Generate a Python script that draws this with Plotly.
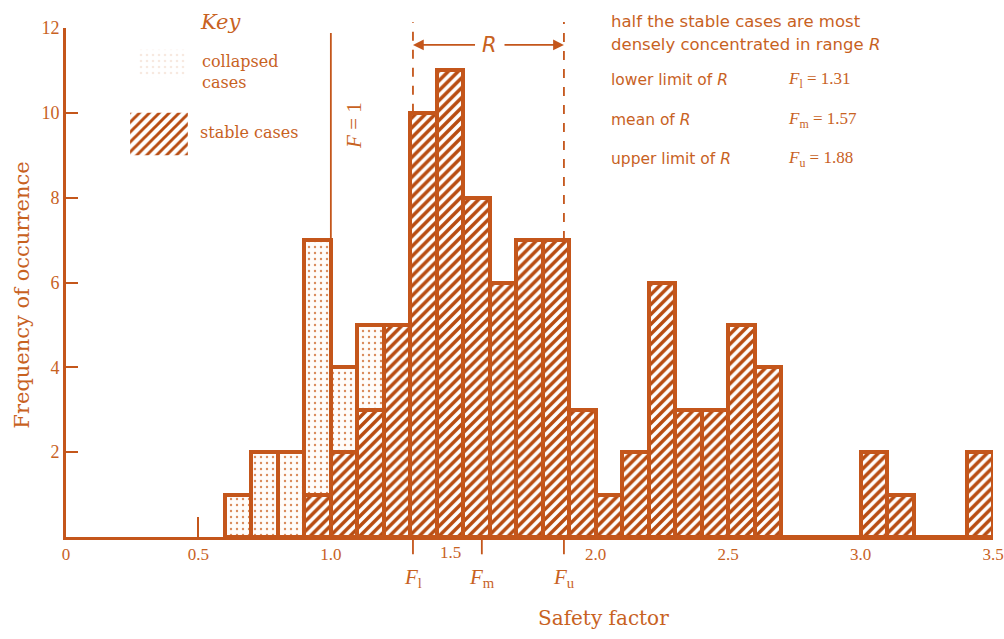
import plotly.graph_objects as go

# ---- data ----
bin_start = [0.6, 0.7, 0.8, 0.9, 1.0, 1.1, 1.2, 1.3, 1.4, 1.5, 1.6, 1.7, 1.8, 1.9,
             2.0, 2.1, 2.2, 2.3, 2.4, 2.5, 2.6, 2.7, 2.8, 2.9, 3.0, 3.1, 3.2, 3.3, 3.4]
stable = [0, 0, 0, 1, 2, 3, 5, 10, 11, 8, 6, 7, 7, 3,
          1, 2, 6, 3, 3, 5, 4, 0, 0, 0, 2, 1, 0, 0, 2]
collapsed = [1, 2, 2, 6, 2, 2, 0, 0, 0, 0, 0, 0, 0, 0,
             0, 0, 0, 0, 0, 0, 0, 0, 0, 0, 0, 0, 0, 0, 0]
bin_width = 0.1
x_ticks = [0, 0.5, 1.0, 1.5, 2.0, 2.5, 3.0, 3.5]
x_ticktext = ["0", "0.5", "1.0", "", "2.0", "2.5", "3.0", "3.5"]
y_ticks = [2, 4, 6, 8, 10, 12]
F_l, F_m, F_u = 1.31, 1.57, 1.88

C = "#C4561B"
HATCH = "#B84C12"
TXT = "#C8621F"
SERIF = "DejaVu Serif"
SERIF2 = "Liberation Serif"
SANS = "DejaVu Sans"

fig = go.Figure()

fig.add_trace(go.Bar(
    x=bin_start, y=stable, width=bin_width, offset=0, name="stable cases",
    marker=dict(color="white", line=dict(color=C, width=4),
                pattern=dict(shape="/", fgcolor=HATCH, fgopacity=1, bgcolor="white",
                             size=7, solidity=0.5)),
    showlegend=False))
fig.add_trace(go.Bar(
    x=bin_start, y=collapsed, width=bin_width, offset=0, name="collapsed cases",
    marker=dict(color="white", line=dict(color=C, width=4),
                pattern=dict(shape=".", fgcolor="#D98A5A", fgopacity=1, bgcolor="#FFFCFA",
                             size=6, solidity=0.12)),
    showlegend=False))

# key swatches (legend decoration)
key_stable_x = [0.242, 0.46, 0.46, 0.242, 0.242]
key_stable_y = [9.0, 9.0, 10.0, 10.0, 9.0]
key_coll_x = [0.27, 0.45, 0.45, 0.27, 0.27]
key_coll_y = [10.83, 10.83, 11.49, 11.49, 10.83]
fig.add_trace(go.Scatter(x=key_stable_x, y=key_stable_y, mode="lines", fill="toself",
                         line=dict(width=0), fillcolor="white",
                         fillpattern=dict(shape="/", fgcolor=HATCH, fgopacity=1, bgcolor="white",
                                          size=7, solidity=0.42),
                         showlegend=False, hoverinfo="skip"))
fig.add_trace(go.Scatter(x=key_coll_x, y=key_coll_y, mode="lines", fill="toself",
                         line=dict(width=0), fillcolor="white",
                         fillpattern=dict(shape=".", fgcolor="#EFD3C2", bgcolor="white", size=6, solidity=0.15),
                         showlegend=False, hoverinfo="skip"))

shapes = []
# F = 1 line
shapes.append(dict(type="line", xref="x", yref="paper", x0=1.0, x1=1.0, y0=0, y1=0.99,
                   line=dict(color=C, width=1.8)))
# R limits dashed
shapes.append(dict(type="line", xref="x", yref="paper", x0=F_l, x1=F_l, y0=10 / 12, y1=1.012,
                   line=dict(color=C, width=1.8, dash="dash")))
shapes.append(dict(type="line", xref="x", yref="paper", x0=F_u, x1=F_u, y0=7 / 12, y1=1.012,
                   line=dict(color=C, width=1.8, dash="dash")))
# F ticks below axis
for fv in (F_l, F_m, F_u):
    shapes.append(dict(type="line", xref="x", yref="paper", x0=fv, x1=fv, y0=0, y1=-0.034,
                       line=dict(color=C, width=1.8)))

ann = []
# R arrows
ann.append(dict(x=F_l, y=11.6, ax=1.55, ay=11.6, axref="x", ayref="y", xref="x", yref="y",
                text="", showarrow=True, arrowhead=2, arrowsize=1.2, arrowwidth=1.8, arrowcolor=C))
ann.append(dict(x=F_u, y=11.6, ax=1.65, ay=11.6, axref="x", ayref="y", xref="x", yref="y",
                text="", showarrow=True, arrowhead=2, arrowsize=1.2, arrowwidth=1.8, arrowcolor=C))
ann.append(dict(x=1.6, y=11.6, text="<i>R</i>", showarrow=False, yanchor="middle",
                font=dict(family=SANS, size=21, color=TXT)))
# F = 1
ann.append(dict(x=1.085, y=9.7, text="<i>F</i> = 1", textangle=-90, showarrow=False,
                yanchor="middle", font=dict(family=SERIF2, size=21, color=TXT)))
# Key
ann.append(dict(x=0.5, y=1.012, yref="paper", xanchor="left", yanchor="middle",
                text="<i>Key</i>", showarrow=False,
                font=dict(family=SERIF, size=21, color=TXT)))
ann.append(dict(x=0.505, y=10.97, xanchor="left", yanchor="middle", align="left",
                text="collapsed<br>cases",
                showarrow=False, font=dict(family=SERIF, size=16, color=TXT)))
ann.append(dict(x=0.5, y=9.53, xanchor="left", yanchor="middle", text="stable cases",
                showarrow=False, font=dict(family=SERIF, size=16, color=TXT)))
# right text block
ann.append(dict(x=2.05, y=1.012, yref="paper", xanchor="left", yanchor="middle",
                text="half the stable cases are most",
                showarrow=False, font=dict(family=SANS, size=16.5, color=TXT)))
ann.append(dict(x=2.05, y=11.6, xanchor="left", yanchor="middle",
                text="densely concentrated in range <i>R</i>",
                showarrow=False, font=dict(family=SANS, size=16.5, color=TXT)))
rows = [("lower limit of <i>R</i>", "<i>F</i><sub>l</sub> = 1.31", 10.78),
        ("mean of <i>R</i>", "<i>F</i><sub>m</sub> = 1.57", 9.84),
        ("upper limit of <i>R</i>", "<i>F</i><sub>u</sub> = 1.88", 8.9)]
for lab, val, yy in rows:
    ann.append(dict(x=2.05, y=yy, xanchor="left", yanchor="middle", text=lab, showarrow=False,
                    font=dict(family=SANS, size=15.5, color=TXT)))
    ann.append(dict(x=2.72, y=yy, xanchor="left", yanchor="middle", text=val, showarrow=False,
                    font=dict(family=SERIF2, size=17, color=TXT)))
# shifted 1.5 tick label
ann.append(dict(x=1.45, y=-0.03, xref="x", yref="paper", yanchor="middle", text="1.5",
                showarrow=False, font=dict(family=SERIF2, size=17, color=TXT)))
# F markers below axis
for fv, lab in ((F_l, "<i>F</i><sub>l</sub>"), (F_m, "<i>F</i><sub>m</sub>"), (F_u, "<i>F</i><sub>u</sub>")):
    ann.append(dict(x=fv, y=-0.08, xref="x", yref="paper", yanchor="middle", text=lab,
                    showarrow=False, font=dict(family=SERIF2, size=21, color=TXT)))
# axis titles
ann.append(dict(x=2.03, y=-0.16, xref="x", yref="paper", yanchor="middle", text="Safety factor",
                showarrow=False, font=dict(family=SERIF, size=20, color=TXT)))
ann.append(dict(x=-0.047, y=0.475, xref="paper", yref="paper", xanchor="center", yanchor="middle",
                text="Frequency of occurrence", textangle=-90, showarrow=False,
                font=dict(family=SERIF, size=21, color=TXT)))

fig.update_layout(
    width=1004, height=639,
    margin=dict(l=66, r=11, t=28, b=102),
    paper_bgcolor="white", plot_bgcolor="white",
    barmode="stack", bargap=0,
    shapes=shapes, annotations=ann,
    xaxis=dict(range=[0, 3.5], tickvals=x_ticks, ticktext=x_ticktext, ticks="inside", ticklen=20,
               tickwidth=1.8, tickcolor=C, showline=True, linecolor=C, linewidth=3,
               showgrid=False, zeroline=False, automargin=False,
               tickfont=dict(family=SERIF2, size=17, color=TXT)),
    yaxis=dict(range=[0, 12], tickvals=y_ticks, ticks="inside", ticklen=12, tickwidth=2,
               tickcolor=C, showline=True, linecolor=C, linewidth=3, showgrid=False,
               zeroline=False, automargin=False,
               tickfont=dict(family=SERIF2, size=18, color=TXT)),
)

fig.write_html("out.html")
